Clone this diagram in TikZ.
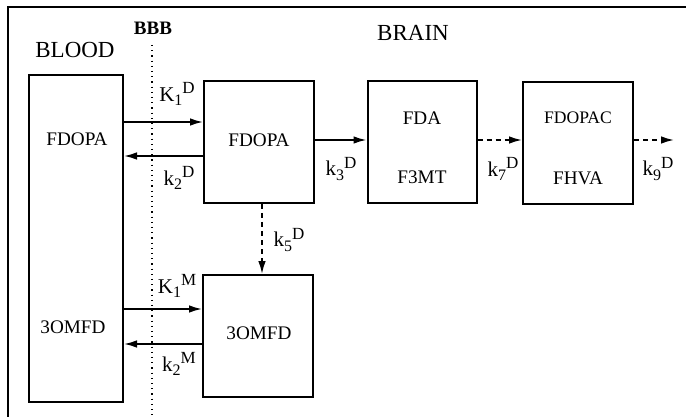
\documentclass[tikz,border=0pt]{standalone}
\usepackage{fontspec}
\setmainfont{Liberation Serif}
\usetikzlibrary{arrows.meta}
\newcommand{\rate}[3]{#1\raisebox{-0.45ex}{\fontsize{8}{9}\selectfont #2}\raisebox{0.75ex}{\fontsize{8.5}{9}\selectfont #3}}
\tikzset{
  comp/.style={draw,line width=1pt,inner sep=0pt},
  region/.style={font=\fontsize{11.5}{13}\selectfont},
  species/.style={font=\fontsize{9.6}{11}\selectfont},
  ratelbl/.style={font=\fontsize{10.5}{12}\selectfont},
  flow/.style={line width=0.9pt,-{Latex[length=6.5pt,width=3.8pt]}},
  slowflow/.style={flow,dash pattern=on 2.5pt off 2pt},
}
\begin{document}
\begin{tikzpicture}[x=0.5pt,y=-0.5pt]
    \useasboundingbox (0,0) rectangle (686,417);
    % frame and barrier
    \draw[line width=1pt] (686,7) -- (8,7) -- (8,417);
    \draw[dotted,line width=0.6pt] (152,45) -- (152,417);
    \node[region] (blood) at (75,50) {BLOOD};
    \node[region,font=\fontsize{9.5}{11}\selectfont\bfseries] (bbb) at (153,28) {BBB};
    \node[region] (brain) at (413,33) {BRAIN};
    % compartments
    \node[comp,minimum width=47pt,minimum height=163.5pt] (plasma) at (76,238.5) {};
    \node[comp,minimum width=55pt,minimum height=61pt] (fdopa) at (259,142) {};
    \node[comp,minimum width=54.5pt,minimum height=61pt] (fda) at (422,142) {};
    \node[comp,minimum width=55pt,minimum height=61pt] (fdopac) at (578,143) {};
    \node[comp,minimum width=55pt,minimum height=61pt] (omfd) at (258,336) {};
    % species
    \node[species] (pFdopa) at (77,139) {FDOPA};
    \node[species] (pOmfd) at (73,327) {3OMFD};
    \node[species] (bFdopa) at (259,140) {FDOPA};
    \node[species] (bFda) at (422,118) {FDA};
    \node[species] (bF3mt) at (422,177) {F3MT};
    \node[species,font=\fontsize{8.8}{10}\selectfont] (bFdopac) at (578,118) {FDOPAC};
    \node[species] (bFhva) at (578,178) {FHVA};
    \node[species] (bOmfd) at (259,333) {3OMFD};
    % transport across BBB
    \draw[flow] (plasma.east |- 0,122) -- (fdopa.west |- 0,122);
    \draw[flow] (fdopa.west |- 0,156) -- (plasma.east |- 0,156);
    \draw[flow] (plasma.east |- 0,309) -- (omfd.west |- 0,309);
    \draw[flow] (omfd.west |- 0,344) -- (plasma.east |- 0,344);
    % metabolism
    \draw[flow] (fdopa.east |- 0,140) -- (fda.west |- 0,140);
    \draw[slowflow] (fda.east |- 0,140) -- (fdopac.west |- 0,140);
    \coordinate (washout) at (674,140);
    \draw[slowflow] (fdopac.east |- washout) -- (washout);
    \draw[slowflow] (fdopa.south -| 262,0) -- (omfd.north -| 262,0);
    % rate constants
    \node[ratelbl] (kOneD) at (177,94) {\rate{K}{1}{D}};
    \node[ratelbl] (kTwoD) at (179,178) {\rate{k}{2}{D}};
    \node[ratelbl] (kOneM) at (177,286) {\rate{K}{1}{M}};
    \node[ratelbl] (kTwoM) at (179,364) {\rate{k}{2}{M}};
    \node[ratelbl] (kThreeD) at (341,169) {\rate{k}{3}{D}};
    \node[ratelbl] (kSevenD) at (503,169) {\rate{k}{7}{D}};
    \node[ratelbl] (kNineD) at (658,169) {\rate{k}{9}{D}};
    \node[ratelbl] (kFiveD) at (289,240) {\rate{k}{5}{D}};
\end{tikzpicture}
\end{document}
